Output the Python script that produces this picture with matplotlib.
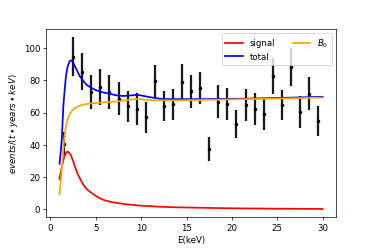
import matplotlib
matplotlib.use("Agg")
import matplotlib.pyplot as plt

# data points
E_data = [1.5, 2.5, 3.5, 4.5, 5.5, 6.5, 7.5, 8.5, 9.5, 10.5, 11.5, 12.5, 13.5, 14.5, 15.5,
          16.5, 17.5, 18.5, 19.5, 20.5, 21.5, 22.5, 23.5, 24.5, 25.5, 26.5, 27.5, 28.5, 29.5]
counts = [40.7, 94.6, 85.3, 72.8, 75.9, 72.8, 68.7, 63.9, 62.2, 57.0, 79.3, 64.1, 65.1, 79.0, 73.2,
          75.3, 37.6, 66.8, 65.4, 53.1, 64.9, 62.2, 58.9, 82.6, 64.5, 88.4, 60.4, 71.6, 54.6]
errors = [7.2, 12.0, 11.5, 10.8, 11.0, 10.5, 10.0, 9.5, 10.0, 9.8, 10.5, 9.2, 9.8, 11.0, 10.2,
          10.0, 7.4, 10.0, 9.7, 8.6, 10.0, 9.8, 10.0, 11.2, 9.2, 11.7, 9.7, 10.3, 9.2]

# fitted curves
E_signal = [1.0, 1.1, 1.2, 1.35, 1.45, 1.6, 1.7, 1.86, 2.0, 2.23, 2.5, 2.7, 3.0, 3.24, 3.6,
            4.0, 4.33, 5.0, 5.43, 6.0, 7.0, 7.6, 8.5, 9.8, 12.0, 14.0, 17.0, 20.0, 25.0, 30.0]
signal = [18.7, 22.0, 25.0, 28.6, 31.0, 33.8, 34.8, 35.8, 35.4, 33.8, 30.0, 26.5, 22.0, 19.3, 15.5,
          12.5, 11.0, 8.3, 6.9, 5.5, 4.2, 3.7, 3.0, 2.3, 1.6, 1.2, 0.9, 0.6, 0.35, 0.2]

E_total = [1.0, 1.12, 1.24, 1.33, 1.42, 1.55, 1.71, 1.85, 1.97, 2.1, 2.26, 2.45, 2.7, 3.0,
           3.24, 3.6, 3.97, 4.5, 5.06, 5.8, 6.52, 7.25, 8.0, 8.8, 9.6, 10.2, 10.9, 12.3,
           15.0, 18.3, 22.0, 26.0, 30.0]
total = [28.2, 35.0, 43.0, 53.0, 63.9, 73.0, 82.5, 87.5, 89.8, 91.8, 92.5, 91.5, 88.7, 85.3,
         82.5, 79.8, 77.3, 75.3, 73.8, 72.5, 71.7, 70.7, 70.3, 70.6, 71.0, 70.4, 69.6, 68.4,
         68.3, 68.4, 68.7, 69.2, 69.8]

E_b0 = [1.0, 1.12, 1.24, 1.37, 1.5, 1.65, 1.79, 1.97, 2.15, 2.4, 2.7, 3.1, 3.6, 4.3, 5.06,
        6.5, 7.5, 8.34, 9.0, 9.6, 10.3, 11.2, 14.5, 18.3, 22.0, 26.0, 30.0]
b0 = [9.3, 16.0, 24.5, 34.0, 43.0, 49.0, 53.5, 57.0, 59.3, 61.3, 62.8, 64.0, 64.9, 65.6, 66.0,
      66.6, 67.0, 67.6, 68.2, 68.4, 68.1, 67.6, 67.6, 68.0, 68.4, 68.8, 69.3]

fig = plt.figure(figsize=(6, 4), dpi=374 / 6)
fig.subplots_adjust(left=0.124, right=0.898, bottom=0.127, top=0.882)
ax = fig.add_subplot(111)

ax.errorbar(E_data, counts, yerr=errors, fmt='o', color='k', markersize=3,
            elinewidth=2.6, ecolor='#1a1a1a', zorder=1)
ax.plot(E_signal, signal, color='red', lw=2, label='signal')
ax.plot(E_total, total, color='blue', lw=2, label='total')
ax.plot(E_b0, b0, color='orange', lw=2, label='$B_0$')

ax.set_ylim(-5, 111.8)
ax.set_xlabel('E(keV)')
ax.set_ylabel(r'$events/(t \bullet years \bullet keV)$')
ax.legend(ncol=2, loc='upper right')

fig.savefig('out.png', dpi=374 / 6)
